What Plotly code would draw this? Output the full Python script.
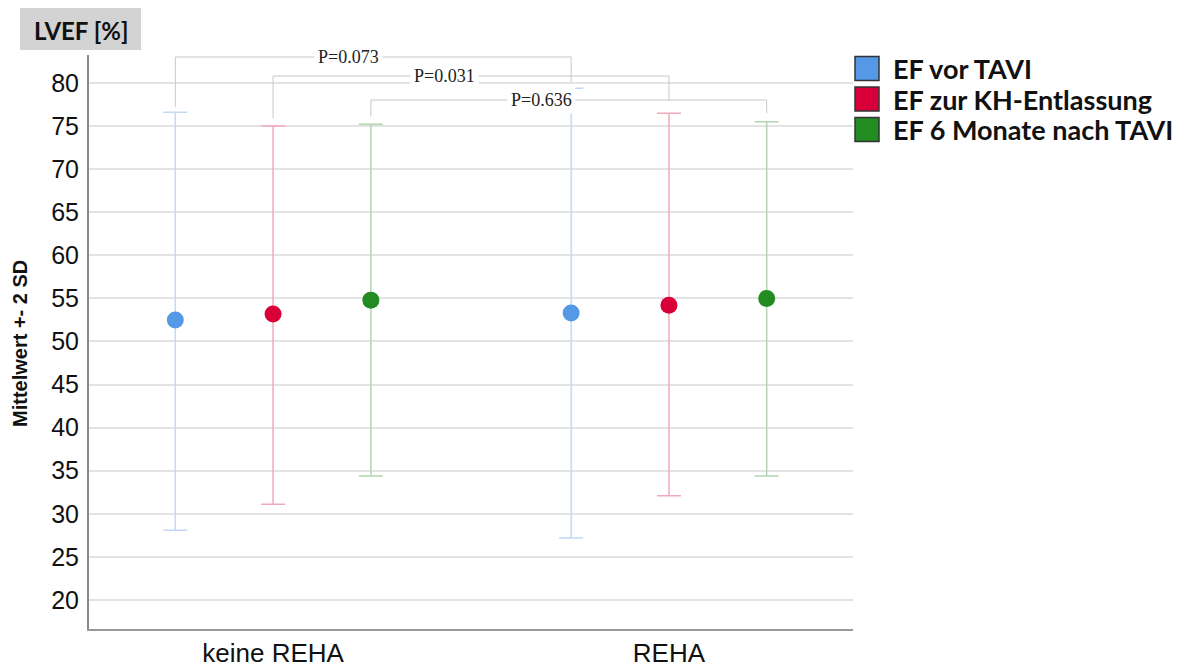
import plotly.graph_objects as go

# ---------------- data ----------------
groups = ["keine REHA", "REHA"]
series = ["EF vor TAVI", "EF zur KH-Entlassung", "EF 6 Monate nach TAVI"]
means = {
    "EF vor TAVI": [52.5, 53.3],
    "EF zur KH-Entlassung": [53.2, 54.2],
    "EF 6 Monate nach TAVI": [54.8, 55.0],
}
upper = {
    "EF vor TAVI": [76.6, 79.4],
    "EF zur KH-Entlassung": [75.0, 76.5],
    "EF 6 Monate nach TAVI": [75.2, 75.5],
}
lower = {
    "EF vor TAVI": [28.1, 27.2],
    "EF zur KH-Entlassung": [31.1, 32.1],
    "EF 6 Monate nach TAVI": [34.4, 34.4],
}
p_values = ["P=0.073", "P=0.031", "P=0.636"]
y_ticks = list(range(20, 85, 5))

# ---------------- styling ----------------
marker_colors = ["#5599e6", "#d9003a", "#228b22"]
bar_colors = ["#c2d9f5", "#f2a9bb", "#b2d5b2"]
offsets = [-0.247, 0.0, 0.247]

W, H = 1186, 669
ML, MR, MT, MB = 89, 333, 55, 40
PW, PH = W - ML - MR, H - MT - MB


def px_x(px):
    return (px - ML) / PW


def px_y(py):
    return (H - MB - py) / PH


fig = go.Figure()
for i, s in enumerate(series):
    xs = [g + offsets[i] for g in range(len(groups))]
    m = means[s]
    fig.add_trace(go.Scatter(
        x=xs, y=m, mode="markers", name=s, showlegend=False,
        marker=dict(size=17, color=marker_colors[i]),
        error_y=dict(type="data", symmetric=False,
                     array=[u - v for u, v in zip(upper[s], m)],
                     arrayminus=[v - l for l, v in zip(lower[s], m)],
                     color=bar_colors[i], thickness=1.5, width=12),
        cliponaxis=False,
    ))

# significance brackets: (series index, horizontal level, left end, right end, label shift)
brackets = [
    (0, 83.02, 77.2, 80.1, -0.062),
    (1, 80.81, 75.9, 77.9, -0.068),
    (2, 78.03, 76.1, 76.5, -0.07),
]
shapes = []
annotations = []
for (si, lvl, le, re, sh), ptxt in zip(brackets, p_values):
    x0 = 0 + offsets[si]
    x1 = 1 + offsets[si]
    for xa, ya, xb, yb in [(x0, le, x0, lvl), (x0, lvl, x1, lvl), (x1, lvl, x1, re)]:
        shapes.append(dict(type="line", xref="x", yref="y", x0=xa, y0=ya, x1=xb, y1=yb,
                           line=dict(color="#c8c8c8", width=1)))
    annotations.append(dict(x=(x0 + x1) / 2 + sh, y=lvl, xref="x", yref="y",
                            xanchor="center", yanchor="middle",
                            text=ptxt, showarrow=False, bgcolor="white",
                            borderpad=3,
                            font=dict(family="Liberation Serif", size=18, color="#222")))

# header box "LVEF [%]"
shapes.append(dict(type="rect", xref="paper", yref="paper",
                   x0=px_x(20), x1=px_x(141), y0=px_y(50), y1=px_y(8),
                   fillcolor="#d3d3d3", line=dict(width=0), layer="below"))
annotations.append(dict(xref="paper", yref="paper", x=px_x(80.5), y=px_y(30),
                        xanchor="center", yanchor="middle",
                        text="<b>LVEF [%]</b>", showarrow=False,
                        font=dict(family="Lato", size=24, color="#111")))

# y-axis title
annotations.append(dict(xref="paper", yref="paper", x=px_x(20), y=px_y(344),
                        xanchor="center", yanchor="middle",
                        text="<b>Mittelwert +- 2 SD</b>", textangle=-90, showarrow=False,
                        font=dict(family="Liberation Sans", size=20, color="#111")))

# legend (manual)
leg_rows = [68.5, 99, 129.5]
for i, s in enumerate(series):
    cy = leg_rows[i]
    shapes.append(dict(type="rect", xref="paper", yref="paper",
                       x0=px_x(855), x1=px_x(879), y0=px_y(cy + 12), y1=px_y(cy - 12),
                       fillcolor=marker_colors[i], line=dict(color="#333", width=1.5)))
    annotations.append(dict(xref="paper", yref="paper", x=px_x(891), y=px_y(cy),
                            xanchor="left", yanchor="middle",
                            text="<b>" + s + "</b>", showarrow=False,
                            font=dict(family="Lato", size=27, color="#111")))

fig.update_layout(
    width=W, height=H,
    margin=dict(l=ML, r=MR, t=MT, b=MB, autoexpand=False),
    plot_bgcolor="white", paper_bgcolor="white",
    shapes=shapes, annotations=annotations,
    showlegend=False,
    xaxis=dict(range=[-0.465, 1.465], tickvals=[0, 1], ticktext=groups,
               showgrid=False, zeroline=False, showline=True, linecolor="#999",
               linewidth=2, ticks="", ticklabelstandoff=0, automargin=False,
               tickfont=dict(family="Liberation Sans", size=26, color="#111")),
    yaxis=dict(range=[16.63, 83.25], tickvals=y_ticks, showgrid=True,
               gridcolor="#e3e3e3", gridwidth=1.5, zeroline=False, showline=True,
               linecolor="#888", linewidth=2, ticks="", ticklabelstandoff=3,
               automargin=False,
               tickfont=dict(family="Liberation Sans", size=25, color="#111")),
)

fig.write_html("out.html", config={"displayModeBar": False},
               post_script="document.body.style.margin='0px';")
